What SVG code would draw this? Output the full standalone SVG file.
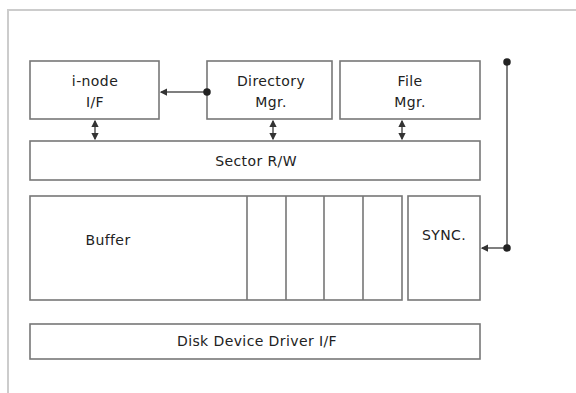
<svg xmlns="http://www.w3.org/2000/svg" width="576" height="393" viewBox="0 0 576 393">
<style>
.box{fill:#fff;stroke:#777;stroke-width:1.6}
.t{font-family:"DejaVu Sans","Liberation Sans",Arial,sans-serif;font-size:14px;fill:#222;text-anchor:middle;letter-spacing:0.4px}
.c{stroke:#555;stroke-width:1.5;fill:none}
</style>
<defs>
<marker id="ah" viewBox="0 0 6 6" refX="5" refY="3" markerWidth="5" markerHeight="5" orient="auto-start-reverse"><path d="M0,0 L6,3 L0,6 Z" fill="#333"/></marker>
<marker id="dot" viewBox="0 0 6 6" refX="3" refY="3" markerWidth="5" markerHeight="5"><circle cx="3" cy="3" r="3" fill="#222"/></marker>
</defs>
<rect width="576" height="393" fill="#fff"/>
<path d="M8,393 V10 H576" fill="none" stroke="#ccc" stroke-width="2"/>
<g id="inode"><rect class="box" x="30" y="61" width="129" height="58"/><text class="t" x="95" y="86">i-node</text><text class="t" x="95" y="107">I/F</text></g>
<g id="directory"><rect class="box" x="207" y="61" width="125" height="58"/><text class="t" x="271" y="86">Directory</text><text class="t" x="271" y="107">Mgr.</text></g>
<g id="file"><rect class="box" x="340" y="61" width="140" height="58"/><text class="t" x="410" y="86">File</text><text class="t" x="410" y="107">Mgr.</text></g>
<g id="sector"><rect class="box" x="30" y="141" width="450" height="39"/><text class="t" x="256" y="166">Sector R/W</text></g>
<g id="buffer"><rect class="box" x="30" y="196" width="372" height="104"/><path class="box" d="M247,196 V300 M286,196 V300 M324,196 V300 M363,196 V300"/><text class="t" x="108" y="245">Buffer</text></g>
<g id="sync"><rect class="box" x="408" y="196" width="72" height="104"/><text class="t" x="444" y="240">SYNC.</text></g>
<g id="disk"><rect class="box" x="30" y="324" width="450" height="35"/><text class="t" x="257" y="346">Disk Device Driver I/F</text></g>
<g id="connectors">
<path class="c" d="M207,92 H161" marker-start="url(#dot)" marker-end="url(#ah)"/>
<path class="c" d="M95,121 V139" marker-start="url(#ah)" marker-end="url(#ah)"/>
<path class="c" d="M273,121 V139" marker-start="url(#ah)" marker-end="url(#ah)"/>
<path class="c" d="M402,121 V139" marker-start="url(#ah)" marker-end="url(#ah)"/>
<path class="c" d="M507,62 V248 H482" marker-start="url(#dot)" marker-mid="url(#dot)" marker-end="url(#ah)"/>
</g>
</svg>
